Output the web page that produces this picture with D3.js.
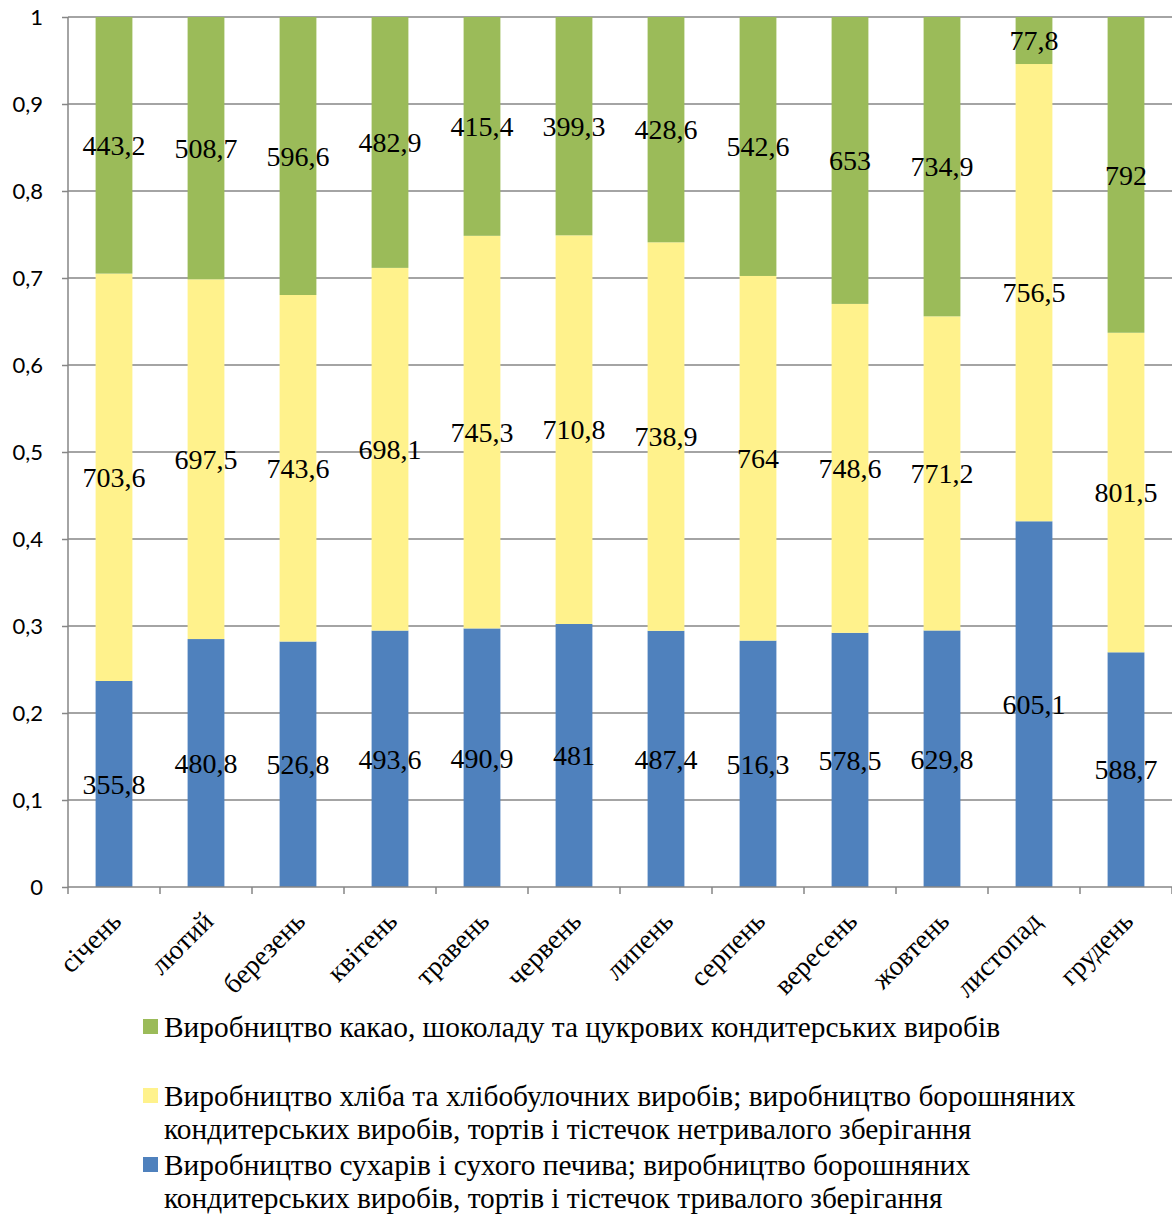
<!DOCTYPE html>
<html>
<head>
<meta charset="utf-8">
<script src="https://cdn.jsdelivr.net/npm/d3@7"></script>
<style>
  body { margin: 0; background: #fff; }
  .tick text { font-family: Lato, "Open Sans", sans-serif; }
  .serif { font-family: "Liberation Serif", "Times New Roman", serif; }
</style>
</head>
<body>
<svg class="chart"></svg>
<script>
var months = ["січень", "лютий", "березень", "квітень", "травень", "червень", "липень", "серпень", "вересень", "жовтень", "листопад", "грудень"];
var dryBiscuits = [355.8, 480.8, 526.8, 493.6, 490.9, 481, 487.4, 516.3, 578.5, 629.8, 605.1, 588.7];
var bread = [703.6, 697.5, 743.6, 698.1, 745.3, 710.8, 738.9, 764, 748.6, 771.2, 756.5, 801.5];
var cocoa = [443.2, 508.7, 596.6, 482.9, 415.4, 399.3, 428.6, 542.6, 653, 734.9, 77.8, 792];
var yTicks = [0, 0.1, 0.2, 0.3, 0.4, 0.5, 0.6, 0.7, 0.8, 0.9, 1];

var seriesNames = [
  ["Виробництво сухарів і сухого печива; виробництво борошняних", "кондитерських виробів, тортів і тістечок тривалого зберігання"],
  ["Виробництво хліба та хлібобулочних виробів; виробництво борошняних", "кондитерських виробів, тортів і тістечок нетривалого зберігання"],
  ["Виробництво какао, шоколаду та цукрових кондитерських виробів"]
];
var colors = ["#4f81bd", "#fff28c", "#9bbb59"];

var width = 1172, height = 1214;
var margin = {top: 17, right: 0, bottom: 327, left: 68};
var chartWidth = width - margin.left - margin.right;
var chartHeight = height - margin.top - margin.bottom;

var svg = d3.select(".chart").attr("width", width).attr("height", height);
var chart = svg.append("g").attr("transform", "translate(" + margin.left + "," + margin.top + ")");

var table = months.map(function(m, i) {
  return {month: m, s0: dryBiscuits[i], s1: bread[i], s2: cocoa[i]};
});
var stack = d3.stack().keys(["s0", "s1", "s2"]).offset(d3.stackOffsetExpand);
var layers = stack(table);

var x = d3.scaleBand().domain(months).range([0, chartWidth]).paddingInner(0.6).paddingOuter(0.3);
var y = d3.scaleLinear().domain([0, 1]).range([chartHeight, 0]);

// gridlines
chart.append("g")
  .selectAll("line")
  .data(yTicks.slice(1))
  .enter().append("line")
  .attr("x1", 0).attr("x2", chartWidth)
  .attr("y1", function(d) { return y(d); })
  .attr("y2", function(d) { return y(d); })
  .attr("stroke", "#868686").attr("stroke-width", 1.5);

// bars
chart.selectAll("g.layer")
  .data(layers)
  .enter().append("g")
  .attr("class", "layer")
  .attr("fill", function(d, i) { return colors[i]; })
  .selectAll("rect")
  .data(function(d) { return d; })
  .enter().append("rect")
  .attr("x", function(d) { return x(d.data.month); })
  .attr("y", function(d) { return y(d[1]); })
  .attr("height", function(d) { return y(d[0]) - y(d[1]); })
  .attr("width", x.bandwidth());

// data labels
layers.forEach(function(layer) {
  chart.append("g").selectAll("text")
    .data(layer)
    .enter().append("text")
    .attr("class", "serif")
    .attr("x", function(d) { return x(d.data.month) + x.bandwidth() / 2; })
    .attr("y", function(d) { return y((d[0] + d[1]) / 2); })
    .attr("dy", "0.35em")
    .attr("text-anchor", "middle")
    .style("font-size", "28px")
    .attr("fill", "#000")
    .text(function(d) { return String(d.data[layer.key]).replace(".", ","); });
});

// y axis
var yAxis = chart.append("g")
  .call(d3.axisLeft(y).tickValues(yTicks).tickSize(6).tickPadding(19)
    .tickFormat(function(d) { return String(d).replace(".", ","); }));
yAxis.selectAll("text").style("font-size", "22px").attr("fill", "#000");
yAxis.select(".domain").attr("stroke", "#868686").attr("stroke-width", 1.5).attr("d", "M0," + chartHeight + "V0");
yAxis.selectAll(".tick line").attr("stroke", "#868686").attr("stroke-width", 1.5);

// x axis
var xAxis = chart.append("g").attr("transform", "translate(0," + chartHeight + ")");
xAxis.append("line").attr("x1", 0).attr("x2", chartWidth).attr("stroke", "#868686").attr("stroke-width", 1.5);
xAxis.selectAll("line.tk")
  .data(months)
  .enter().append("line")
  .attr("class", "tk")
  .attr("x1", function(d) { return x(d) + x.bandwidth() / 2 + x.step() / 2; })
  .attr("x2", function(d) { return x(d) + x.bandwidth() / 2 + x.step() / 2; })
  .attr("y1", 0).attr("y2", 7)
  .attr("stroke", "#868686").attr("stroke-width", 1.5);
xAxis.append("line").attr("x1", 0).attr("x2", 0).attr("y1", 0).attr("y2", 7)
  .attr("stroke", "#868686").attr("stroke-width", 1.5);
xAxis.selectAll("text.cat")
  .data(months)
  .enter().append("text")
  .attr("class", "cat serif")
  .attr("transform", function(d) { return "translate(" + (x(d) + x.bandwidth() / 2 + 2) + ",29) rotate(-45)"; })
  .attr("text-anchor", "end")
  .attr("dy", "0.35em")
  .style("font-size", "27.5px")
  .text(function(d) { return d; });

// legend (top series first)
var legendRows = [{s: 2, y: 1027}, {s: 1, y: 1096}, {s: 0, y: 1165}];
var legend = svg.append("g");
legendRows.forEach(function(r) {
  legend.append("rect")
    .attr("x", 143).attr("y", r.y - 8)
    .attr("width", 15).attr("height", 15)
    .attr("fill", colors[r.s]);
  seriesNames[r.s].forEach(function(line, j) {
    legend.append("text")
      .attr("class", "serif")
      .attr("x", 164).attr("y", r.y + j * 33)
      .attr("dy", "0.35em")
      .style("font-size", "29.4px")
      .text(line);
  });
});
</script>
</body>
</html>
